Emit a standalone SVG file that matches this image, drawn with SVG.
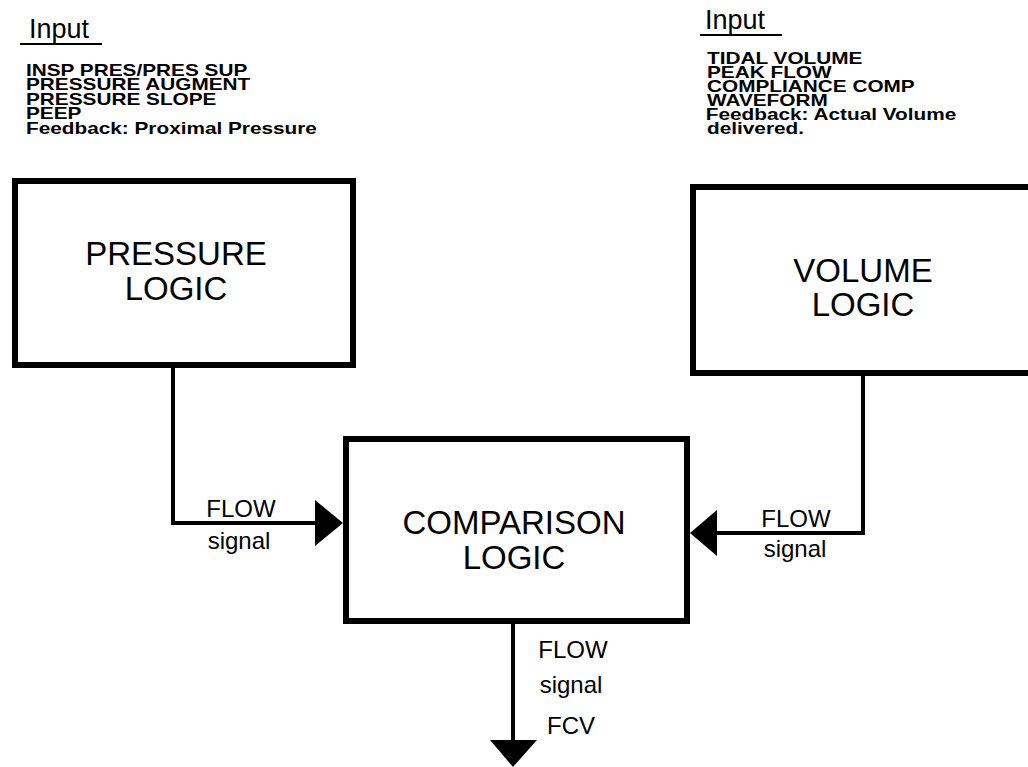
<svg xmlns="http://www.w3.org/2000/svg" width="1028" height="767" viewBox="0 0 1028 767">
<style>
.box{fill:#fff;stroke:#000;stroke-width:6}
.conn{fill:none;stroke:#000;stroke-width:4}
.head{fill:#000}
.big{font-family:"Liberation Sans",Arial,sans-serif;font-size:33px;fill:#000;text-anchor:middle}
.lbl{font-family:"Liberation Sans",Arial,sans-serif;font-size:24px;fill:#000;text-anchor:middle}
.inp{font-family:"Liberation Sans",Arial,sans-serif;font-size:27px;fill:#000}
.lst{font-family:"Liberation Sans",Arial,sans-serif;font-size:16.5px;font-weight:bold;fill:#000}
.ul{stroke:#000;stroke-width:2}
</style>
<rect width="1028" height="767" fill="#fff"/>
<g id="pressure-input">
<text class="inp" x="29" y="38">Input</text>
<line class="ul" x1="20" y1="44" x2="102" y2="44"/>
<text class="lst" transform="translate(26,0) scale(1.26,1)"><tspan x="0" y="76">INSP PRES/PRES SUP</tspan><tspan x="0" y="90.5">PRESSURE AUGMENT</tspan><tspan x="0" y="105">PRESSURE SLOPE</tspan><tspan x="0" y="119.5">PEEP</tspan><tspan x="0" y="134">Feedback: Proximal Pressure</tspan></text>
</g>
<g id="volume-input">
<text class="inp" x="705" y="29">Input</text>
<line class="ul" x1="700" y1="35" x2="782" y2="35"/>
<text class="lst" transform="translate(707,0) scale(1.26,1)"><tspan x="0" y="64">TIDAL VOLUME</tspan><tspan x="0" y="78">PEAK FLOW</tspan><tspan x="0" y="92">COMPLIANCE COMP</tspan><tspan x="0" y="106">WAVEFORM</tspan><tspan x="-1" y="120">Feedback: Actual Volume</tspan><tspan x="0" y="134">delivered.</tspan></text>
</g>
<g id="pressure-logic">
<rect class="box" x="15" y="181" width="338" height="184"/>
<text class="big" x="176" y="265">PRESSURE</text>
<text class="big" x="176" y="300">LOGIC</text>
</g>
<g id="volume-logic">
<rect class="box" x="693" y="187" width="400" height="186"/>
<text class="big" x="863" y="282">VOLUME</text>
<text class="big" x="863" y="316">LOGIC</text>
</g>
<g id="comparison-logic">
<rect class="box" x="346" y="439" width="341" height="182"/>
<text class="big" x="514" y="534">COMPARISON</text>
<text class="big" x="514" y="569">LOGIC</text>
</g>
<g id="connectors">
<polyline class="conn" points="173,365 173,523 318,523"/>
<polygon class="head" points="315,500 343,523 315,546"/>
<polyline class="conn" points="863,373 863,533 714,533"/>
<polygon class="head" points="717,510 690,533 717,556"/>
<line class="conn" x1="513" y1="621" x2="513" y2="742"/>
<polygon class="head" points="490,740 537,740 513,767"/>
<text class="lbl" x="241" y="517">FLOW</text>
<text class="lbl" x="239" y="549">signal</text>
<text class="lbl" x="796" y="527">FLOW</text>
<text class="lbl" x="795" y="557">signal</text>
<text class="lbl" x="573" y="658">FLOW</text>
<text class="lbl" x="571" y="693">signal</text>
<text class="lbl" x="571" y="734">FCV</text>
</g>
</svg>
